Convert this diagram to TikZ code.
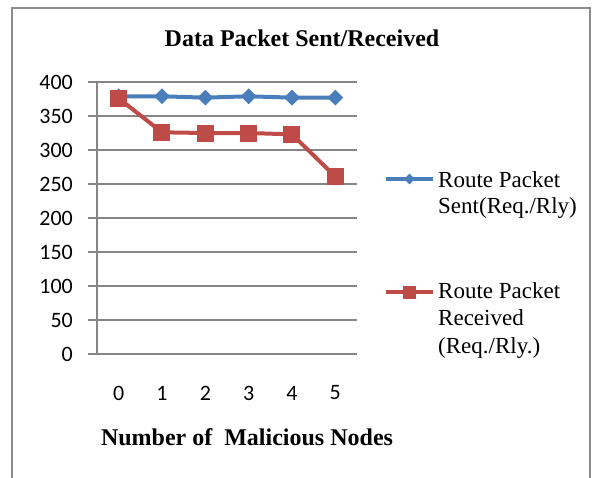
\documentclass[tikz,border=0pt]{standalone}
\usepackage{fontspec}
\setmainfont{Liberation Serif}
\newfontfamily\axisfont{Carlito}
\usetikzlibrary{shapes.geometric}

\definecolor{sentblue}{HTML}{4A7EBB}
\definecolor{recvred}{HTML}{BE4B48}
\definecolor{gridgray}{HTML}{868686}
\definecolor{framegray}{HTML}{8C8C8C}

\begin{document}
\begin{tikzpicture}[x=1pt, y=-1pt,
  gridline/.style={draw=gridgray, line width=1.1pt},
  sentline/.style={draw=sentblue, line width=4pt, line join=round},
  recvline/.style={draw=recvred, line width=4pt, line join=round},
  sentmark/.style={shape=diamond, fill=sentblue, draw=none, inner sep=0pt,
                   minimum width=#1, minimum height=#1},
  sentmark/.default=16pt,
  recvmark/.style={shape=rectangle, fill=recvred, draw=none, inner sep=0pt,
                   minimum size=#1},
  recvmark/.default=17pt,
  ticklabel/.style={font=\axisfont\fontsize{22}{24}\selectfont, inner sep=0pt},
  titlelabel/.style={font=\bfseries\fontsize{24}{28}\selectfont, inner sep=0pt},
  legendtext/.style={font=\fontsize{23}{26}\selectfont, inner sep=0pt, anchor=base west},
]
\useasboundingbox (0,0) rectangle (593,477);
\fill[white] (0,0) rectangle (593,477);

% chart frame (runs off the lower edge)
\draw[framegray, line width=2pt] (12,500) -- (12,8) -- (590,8) -- (590,500);

% title
\node[titlelabel, anchor=base] (title) at (302,46.5) {Data Packet Sent/Received};

% horizontal gridlines and value labels
\foreach \v in {0,50,...,400} {
  \draw[gridline] (88,{354-0.68*\v}) -- (357,{354-0.68*\v});
  \node[ticklabel, anchor=east] (yl\v) at (73,{354-0.68*\v}) {\v};
}
% value axis
\draw[gridline] (97,{354-0.68*400}) -- (97,354);

% category labels
\foreach \i in {0,...,5} {
  \node[ticklabel] (xl\i) at ({97+43.33*(\i+0.5)},393) {\i};
}
\node[titlelabel, anchor=base] (xtitle) at (247,445) {Number of\ \ Malicious Nodes};

% data points
\foreach \i/\s/\r in {0/379/376, 1/379/326, 2/377/325, 3/379/325, 4/377/323, 5/377/261} {
  \coordinate (ps\i) at ({97+43.33*(\i+0.5)},{354-0.68*\s});
  \coordinate (pr\i) at ({97+43.33*(\i+0.5)},{354-0.68*\r});
}

% sent series
\draw[sentline] (ps0) -- (ps1) -- (ps2) -- (ps3) -- (ps4) -- (ps5);
\foreach \i in {0,...,5} \node[sentmark] (s\i) at (ps\i) {};

% received series
\draw[recvline] (pr0) -- (pr1) -- (pr2) -- (pr3) -- (pr4) -- (pr5);
\foreach \i in {0,...,5} \node[recvmark] (r\i) at (pr\i) {};

% legend
\coordinate (lsA) at (386,179);
\coordinate (lsB) at (433,179);
\draw[sentline] (lsA) -- (lsB);
\node[sentmark=11pt] (legsent) at (409.5,179) {};
\node[legendtext] (legsent1) at (438,187) {Route Packet};
\node[legendtext] (legsent2) at (438,213) {Sent(Req./Rly)};

\coordinate (lrA) at (386,292);
\coordinate (lrB) at (433,292);
\draw[recvline] (lrA) -- (lrB);
\node[recvmark=13pt] (legrecv) at (409.5,292) {};
\node[legendtext] (legrecv1) at (438,298) {Route Packet};
\node[legendtext] (legrecv2) at (438,325) {Received};
\node[legendtext] (legrecv3) at (438,353) {(Req./Rly.)};
\end{tikzpicture}
\end{document}
